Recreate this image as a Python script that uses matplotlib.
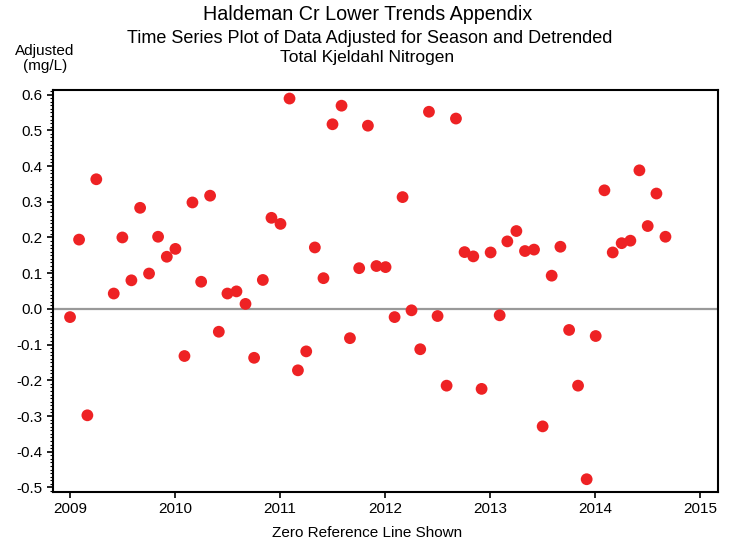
import matplotlib.pyplot as plt
from matplotlib.ticker import MultipleLocator

plt.rcParams['font.family'] = ['Liberation Sans', 'DejaVu Sans']

# decimal year of each sample and its adjusted value (mg/L)
years = [2009.000, 2009.086, 2009.165, 2009.250, 2009.416, 2009.498, 2009.584,
         2009.667, 2009.752, 2009.838, 2009.921, 2010.003, 2010.089, 2010.165,
         2010.248, 2010.333, 2010.416, 2010.498, 2010.584, 2010.670, 2010.752,
         2010.835, 2010.917, 2011.003, 2011.089, 2011.169, 2011.248, 2011.330,
         2011.412, 2011.498, 2011.584, 2011.664, 2011.752, 2011.835, 2011.916,
         2012.003, 2012.089, 2012.165, 2012.250, 2012.333, 2012.416, 2012.498,
         2012.584, 2012.673, 2012.755, 2012.838, 2012.917, 2013.003, 2013.089,
         2013.162, 2013.248, 2013.330, 2013.416, 2013.498, 2013.584, 2013.667,
         2013.750, 2013.835, 2013.917, 2014.003, 2014.086, 2014.165, 2014.250,
         2014.333, 2014.419, 2014.498, 2014.581, 2014.667]
adjusted = [-0.023, 0.194, -0.298, 0.363, 0.043, 0.200, 0.080,
            0.283, 0.099, 0.202, 0.146, 0.168, -0.132, 0.298,
            0.076, 0.317, -0.064, 0.043, 0.049, 0.014, -0.137,
            0.081, 0.255, 0.238, 0.589, -0.172, -0.119, 0.172,
            0.086, 0.517, 0.569, -0.082, 0.114, 0.513, 0.120,
            0.117, -0.023, 0.313, -0.004, -0.113, 0.552, -0.020,
            -0.215, 0.533, 0.159, 0.147, -0.224, 0.158, -0.018,
            0.189, 0.218, 0.162, 0.166, -0.329, 0.093, 0.174,
            -0.059, -0.215, -0.477, -0.076, 0.332, 0.158, 0.184,
            0.191, 0.388, 0.232, 0.323, 0.202]

xticks = [2009, 2010, 2011, 2012, 2013, 2014, 2015]
yticks = [-0.5, -0.4, -0.3, -0.2, -0.1, 0.0, 0.1, 0.2, 0.3, 0.4, 0.5, 0.6]

fig = plt.figure(figsize=(7.35, 5.44), dpi=100)
ax = fig.add_axes([0.0717, 0.0961, 0.9056, 0.7385])

ax.axhline(0, color='#999999', linewidth=1.6, zorder=1)
ax.scatter(years, adjusted, s=72, color='#EE2224', edgecolors='none', zorder=3)

ax.set_xlim(2008.835, 2015.17)
ax.set_ylim(-0.512, 0.613)
ax.set_xticks(xticks)
ax.set_xticklabels([str(x) for x in xticks])
ax.set_yticks(yticks)
ax.set_yticklabels(['%.1f' % y for y in yticks])
ax.yaxis.set_minor_locator(MultipleLocator(0.01))
ax.tick_params(axis='both', labelsize=11, length=4, width=1.2, direction='out')
ax.tick_params(axis='y', which='minor', length=2, width=0.8)
for s in ax.spines.values():
    s.set_linewidth(1.5)

fig.text(0.5, 0.963, 'Haldeman Cr Lower Trends Appendix', ha='center', va='baseline', fontsize=14.2)
fig.text(0.503, 0.9215, 'Time Series Plot of Data Adjusted for Season and Detrended',
         ha='center', va='baseline', fontsize=13)
fig.text(0.5, 0.8855, 'Total Kjeldahl Nitrogen', ha='center', va='baseline', fontsize=12.5)
fig.text(0.061, 0.899, 'Adjusted', ha='center', va='baseline', fontsize=11)
fig.text(0.061, 0.871, '(mg/L)', ha='center', va='baseline', fontsize=11)
fig.text(0.5, 0.0123, 'Zero Reference Line Shown', ha='center', va='baseline', fontsize=11)

fig.savefig('out.png', dpi=100)
